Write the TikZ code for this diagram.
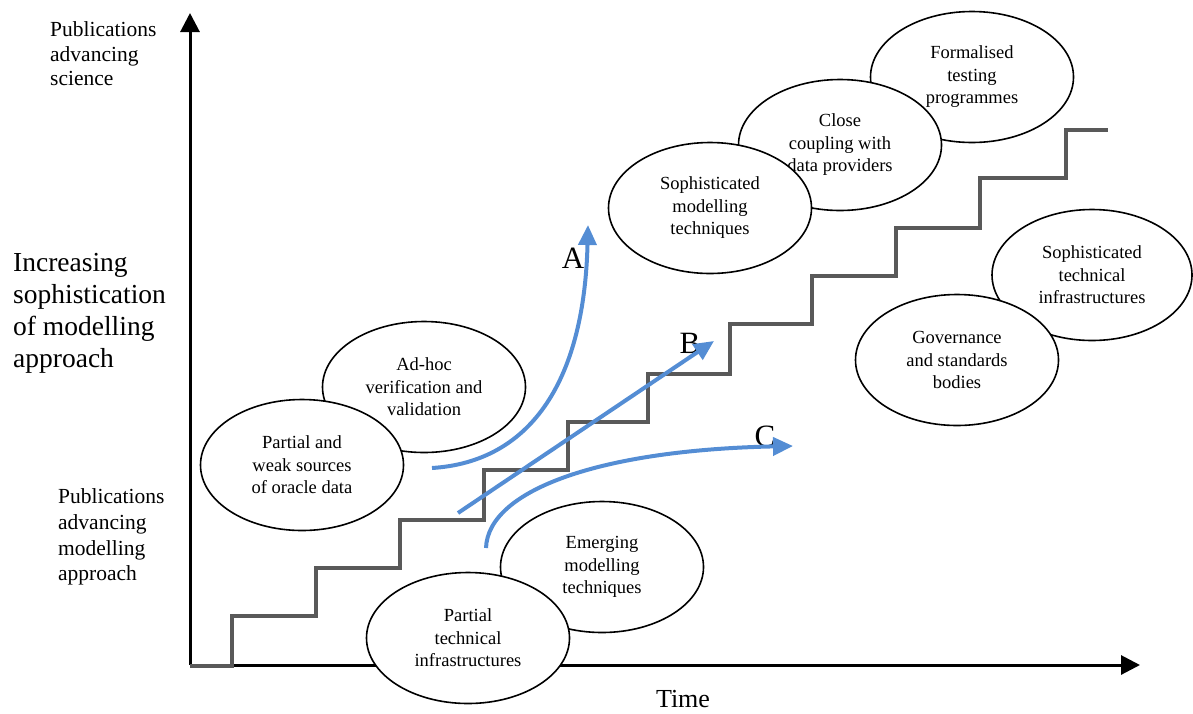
\documentclass[tikz,border=0pt]{standalone}
\usepackage{fontspec}
\setmainfont{Liberation Serif}
\usetikzlibrary{shapes.geometric,arrows.meta}
\definecolor{stair}{RGB}{89,89,89}
\definecolor{blueArr}{RGB}{84,141,212}
\begin{document}
\begin{tikzpicture}[x=1pt,y=-1pt,
  bubble/.style={ellipse,draw,line width=1.6pt,fill=white,minimum width=203pt,minimum height=131pt,inner sep=0pt,align=center,font=\fontsize{18.5}{22.5}\selectfont},
  axis/.style={line width=3pt,-{Triangle[length=19pt,width=19pt]}},
  trend/.style={blueArr,line width=4pt,-{Triangle[length=20pt,width=18pt]}},
  stairline/.style={stair,line width=4pt},
  sidelabel/.style={align=left,anchor=west,inner sep=0pt,font=\fontsize{21.5}{24.5}\selectfont},
  biglabel/.style={align=left,anchor=west,inner sep=0pt,font=\fontsize{27.5}{32}\selectfont},
  letter/.style={font=\fontsize{31}{31}\selectfont,inner sep=0pt}]
\useasboundingbox (0,0) rectangle (1193,713);

% axes
\coordinate (origin) at (190,665);
\coordinate (ytop) at (190,13);
\coordinate (xend) at (1140,665);
\draw[axis] (origin) -- (ytop);
\draw[axis] (origin) -- (xend);

% staircase
\draw[stairline] (190,666) -| (232,616) -| (316,568) -| (400,520) -| (484,470)
  -| (568,422) -| (648,374) -| (730,324) -| (812,276) -| (896,228)
  -| (980,178) -| (1066,130) -- (1108,130);

% side labels
\node[sidelabel] (sci) at (50,54) {Publications\\advancing\\science};
\node[biglabel] (soph) at (13,313) {Increasing\\sophistication\\of modelling\\approach};
\node[sidelabel,font=\fontsize{21.5}{25.7}\selectfont] (model) at (58,537) {Publications\\advancing\\modelling\\approach};
\node[font=\fontsize{26}{26}\selectfont,inner sep=0pt] (time) at (683,699) {Time};

% letters
\node[letter] (la) at (573,258) {A};
\node[letter] (lb) at (690,343) {B};
\node[letter] (lc) at (765,436) {C};

% trend arrows
\coordinate (a0) at (432,468);
\coordinate (a1) at (588,225);
\coordinate (b0) at (458,513);
\coordinate (b1) at (714,341);
\coordinate (c0) at (486,548);
\coordinate (c1) at (793,446);
\draw[trend] (a0) .. controls (528,462) and (584,385) .. (a1);
\draw[trend] (b0) -- (b1);
\draw[trend] (c0) .. controls (488,490) and (600,450) .. (c1);

% ellipses
\node[bubble] (adhoc) at (424,387) {Ad-hoc\\verification and\\validation};
\node[bubble] (pweak) at (302,465) {Partial and\\weak sources\\of oracle data};
\node[bubble] (emerg) at (602,567) {Emerging\\modelling\\techniques};
\node[bubble] (ptech) at (468,638) {Partial\\technical\\infrastructures};
\node[bubble] (formal) at (972,77) {Formalised\\testing\\programmes};
\node[bubble] (close) at (840,145) {Close\\coupling with\\data providers};
\node[bubble] (sophmod) at (710,208) {Sophisticated\\modelling\\techniques};
\node[bubble,minimum width=200pt] (sophtech) at (1092,275) {Sophisticated\\technical\\infrastructures};
\node[bubble] (gov) at (957,360) {Governance\\and standards\\bodies};
\end{tikzpicture}
\end{document}
